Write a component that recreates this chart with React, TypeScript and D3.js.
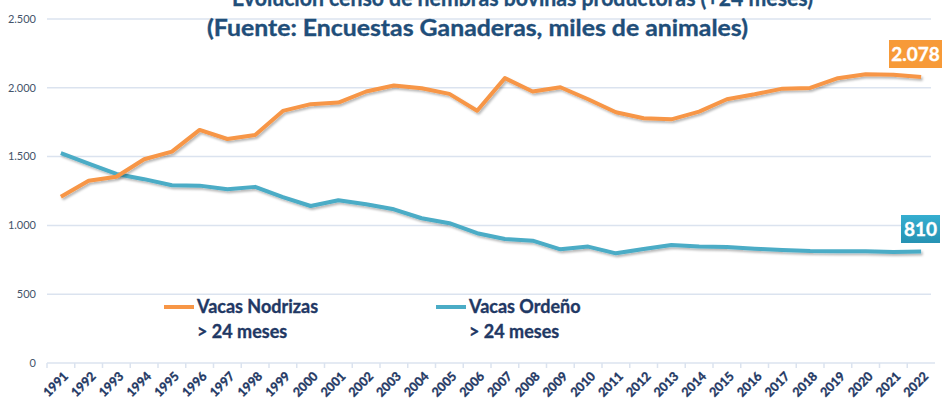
import React, { useEffect } from "react";
import * as d3 from "d3";

const years = [
  "1991", "1992", "1993", "1994", "1995", "1996", "1997", "1998", "1999", "2000",
  "2001", "2002", "2003", "2004", "2005", "2006", "2007", "2008", "2009", "2010",
  "2011", "2012", "2013", "2014", "2015", "2016", "2017", "2018", "2019", "2020",
  "2021", "2022",
];

// Vacas Nodrizas > 24 meses (miles)
const nodrizas = [
  1209, 1325, 1354, 1481, 1536, 1694, 1628, 1657, 1832, 1881,
  1893, 1973, 2017, 1997, 1956, 1833, 2070, 1973, 2004, 1917,
  1822, 1779, 1771, 1827, 1917, 1953, 1994, 1999, 2070, 2099,
  2094, 2078,
];

// Vacas Ordeño > 24 meses (miles)
const ordeno = [
  1525, 1449, 1374, 1336, 1292, 1289, 1263, 1280, 1205, 1141,
  1183, 1154, 1117, 1052, 1016, 943, 901, 889, 826, 846,
  797, 829, 858, 846, 843, 831, 822, 814, 812, 812,
  807, 810,
];

const yTicks = [0, 500, 1000, 1500, 2000, 2500];
const titleLines = [
  "Evolución censo de hembras bovinas productoras (+24 meses)",
  "(Fuente: Encuestas Ganaderas, miles de animales)",
];
const seriesNames = ["Vacas Nodrizas", "Vacas Ordeño"];
const lastLabels = ["2.078", "810"];

const W = 942;
const H = 407;
const ORANGE = "#f79646";
const TEAL = "#4bacc6";
const NAVY = "#1f3864";
const GRID = "#dbe3ef";
const FONT = "Lato, 'Open Sans', sans-serif";

export default function App() {
  useEffect(() => {
    document.body.style.margin = "0";
  }, []);

  const x = d3.scaleBand().domain(years).range([47, 935]);
  const y = d3.scaleLinear().domain([0, 2500]).range([363, 19]);
  const cx = (yr: string) => (x(yr) as number) + x.bandwidth() / 2;

  const line = d3
    .line<number>()
    .x((_, i) => cx(years[i]))
    .y((d) => y(d));

  const fmt = (v: number) => d3.format(",")(v).replace(/,/g, ".");

  // bold text helper, a thin stroke makes Lato look closer to Calibri bold
  const bold = (fill: string, size: number) => ({
    fontFamily: FONT,
    fontWeight: "bold" as const,
    fontSize: size,
    fill,
    stroke: fill,
    strokeWidth: 0.35,
  });

  return (
    <svg width={W} height={H} style={{ display: "block", background: "#fff" }}>
      <defs>
        <filter id="shadow" x="-5%" y="-20%" width="110%" height="140%">
          <feDropShadow dx="1.5" dy="2" stdDeviation="1" floodColor="#000" floodOpacity="0.28" />
        </filter>
        <linearGradient id="tealBox" x1="0" y1="0" x2="0" y2="1">
          <stop offset="0" stopColor="#35aed0" />
          <stop offset="1" stopColor="#2692b3" />
        </linearGradient>
      </defs>

      {/* gridlines */}
      {yTicks.filter((t) => t > 0).map((t) => (
        <line key={t} x1={47} x2={931} y1={y(t)} y2={y(t)} stroke={GRID} strokeWidth={1.5} />
      ))}

      {/* y labels */}
      {yTicks.map((t) => (
        <text
          key={"yl" + t}
          x={36}
          y={y(t)}
          dy="0.35em"
          textAnchor="end"
          fontFamily={FONT}
          fontSize={11}
          fill="#44546a"
        >
          {fmt(t)}
        </text>
      ))}

      {/* x axis */}
      <line x1={47} x2={935} y1={363} y2={363} stroke={GRID} strokeWidth={1.5} />
      {years.map((yr) => (
        <line key={"t" + yr} x1={x(yr)} x2={x(yr)} y1={363} y2={368} stroke={GRID} strokeWidth={1.5} />
      ))}
      {years.map((yr) => (
        <text
          key={"xl" + yr}
          transform={`translate(${cx(yr) + 5},${374}) rotate(-45)`}
          textAnchor="end"
          dy="0.35em"
          {...bold(NAVY, 12.5)}
        >
          {yr}
        </text>
      ))}

      {/* title (first line is clipped by the top edge, as in the source image) */}
      <text x={232} y={6} textLength={581} lengthAdjust="spacingAndGlyphs" {...bold("#1f4e79", 22)}>
        {titleLines[0]}
      </text>
      <text x={207} y={36} textLength={541} lengthAdjust="spacingAndGlyphs" {...bold("#1f4e79", 22)}>
        {titleLines[1]}
      </text>

      {/* lines */}
      <path d={line(ordeno) || ""} fill="none" stroke={TEAL} strokeWidth={4} strokeLinejoin="round" filter="url(#shadow)" />
      <path d={line(nodrizas) || ""} fill="none" stroke={ORANGE} strokeWidth={4} strokeLinejoin="round" filter="url(#shadow)" />

      {/* end labels */}
      <rect x={889} y={40} width={53} height={28} fill="#f79a38" />
      <text x={915.5} y={54} dy="0.36em" textAnchor="middle" {...bold("#fff", 19)}>
        {lastLabels[0]}
      </text>
      <rect x={901} y={215} width={39} height={28} fill="url(#tealBox)" />
      <text x={920.5} y={229} dy="0.36em" textAnchor="middle" {...bold("#fff", 19)}>
        {lastLabels[1]}
      </text>

      {/* legend */}
      {[ORANGE, TEAL].map((c, i) => {
        const lx = i === 0 ? 164 : 436;
        return (
          <g key={"lg" + i}>
            <line x1={lx} x2={lx + 30} y1={307} y2={307} stroke={c} strokeWidth={4} />
            <text x={lx + 33} y={307} dy="0.36em" {...bold(NAVY, 18)}>
              {seriesNames[i]}
            </text>
            <text x={lx + 33} y={332} dy="0.36em" {...bold(NAVY, 18)}>
              {"> 24 meses"}
            </text>
          </g>
        );
      })}
    </svg>
  );
}
